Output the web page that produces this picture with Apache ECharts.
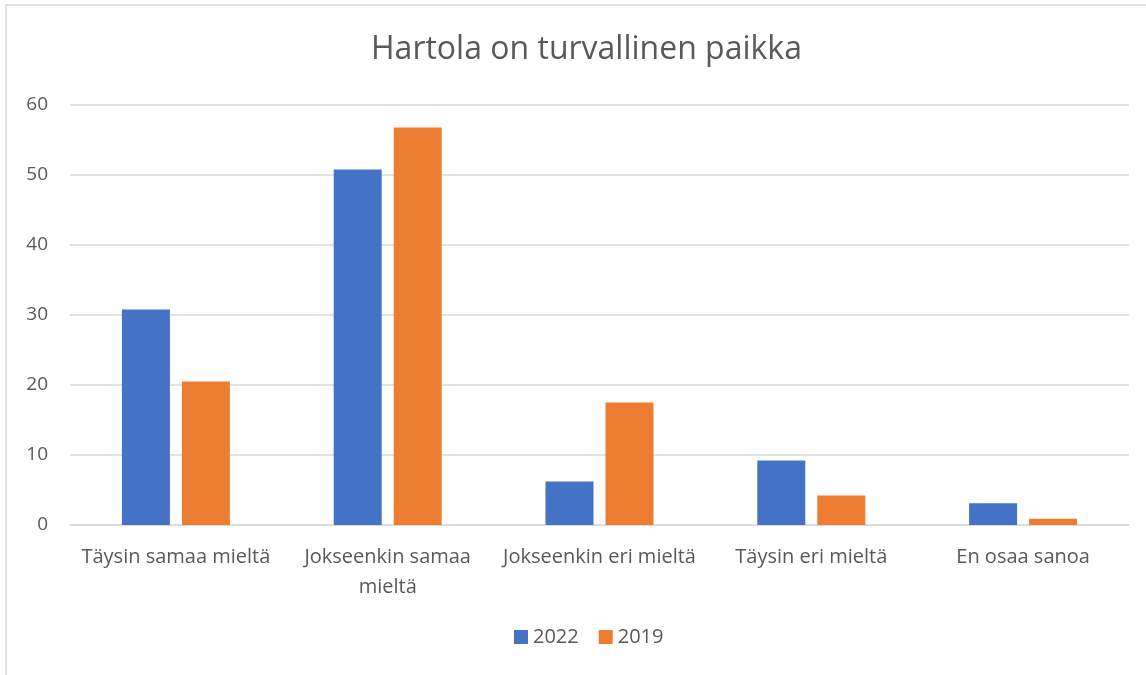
<!DOCTYPE html>
<html>
<head>
<meta charset="utf-8">
<script src="https://cdn.jsdelivr.net/npm/echarts@6/dist/echarts.min.js"></script>
<style>
  html, body { margin: 0; padding: 0; background: #fff; }
  #chart { width: 1146px; height: 675px; }
</style>
</head>
<body>
<div id="chart"></div>
<script>
const categories = ['Täysin samaa mieltä', 'Jokseenkin samaa\nmieltä', 'Jokseenkin eri mieltä', 'Täysin eri mieltä', 'En osaa sanoa']
const values2022 = [30.8, 50.8, 6.2, 9.2, 3.1]
const values2019 = [20.5, 56.8, 17.5, 4.2, 0.9]

const textColor = '#595959'
const font = 'Open Sans'

const chart = echarts.init(document.getElementById('chart'))
chart.setOption({
  animation: false,
  textStyle: { fontFamily: font },
  graphic: [{
    type: 'rect',
    shape: { x: 6, y: 5, width: 1200, height: 720 },
    style: { fill: 'none', stroke: '#d9d9d9', lineWidth: 1.5 },
    silent: true
  }],
  title: {
    text: 'Hartola on turvallinen paikka',
    left: 366,
    top: 29,
    textStyle: { fontFamily: font, fontSize: 32, fontWeight: 'normal', color: textColor }
  },
  legend: {
    bottom: 23,
    left: 509,
    itemWidth: 14,
    itemHeight: 14,
    itemGap: 20,
    icon: 'rect',
    textStyle: { fontFamily: font, fontSize: 20, color: textColor }
  },
  grid: { left: 70, right: 17, top: 105, bottom: 150 },
  xAxis: {
    type: 'category',
    data: categories,
    axisLine: { lineStyle: { color: '#d9d9d9', width: 1.5 } },
    axisTick: { show: false },
    axisLabel: { interval: 0, margin: 17, fontSize: 20, lineHeight: 30, color: textColor }
  },
  yAxis: {
    type: 'value',
    min: 0,
    max: 60,
    interval: 10,
    axisLine: { show: false },
    axisTick: { show: false },
    splitLine: { lineStyle: { color: '#d9d9d9', width: 1.5 } },
    axisLabel: { margin: 22, fontSize: 19, color: textColor }
  },
  series: [{
    name: '2022',
    type: 'bar',
    data: values2022,
    barWidth: 48,
    barGap: '25%',
    itemStyle: { color: '#4472c4' }
  }, {
    name: '2019',
    type: 'bar',
    data: values2019,
    barWidth: 48,
    itemStyle: { color: '#ed7d31' }
  }]
})
</script>
</body>
</html>
